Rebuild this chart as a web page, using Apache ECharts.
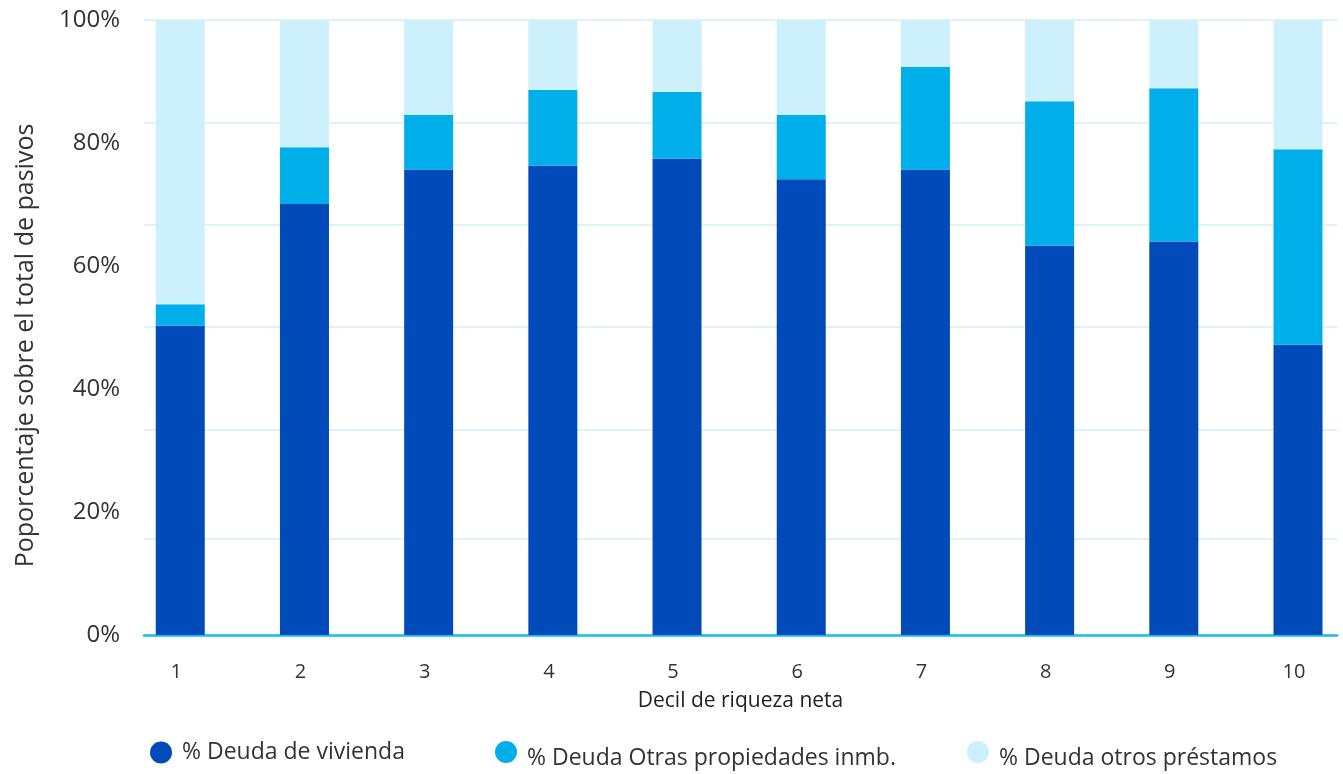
<!DOCTYPE html>
<html>
<head>
<meta charset="utf-8">
<script src="https://cdn.jsdelivr.net/npm/echarts@6/dist/echarts.min.js"></script>
<style>
  html, body { margin: 0; padding: 0; background: #ffffff; }
  #chart { width: 1343px; height: 774px; }
</style>
</head>
<body>
<div id="chart"></div>
<script>
// Deciles of net wealth and the share of each debt type in total liabilities (%)
const deciles = [1, 2, 3, 4, 5, 6, 7, 8, 9, 10];
const deudaVivienda = [50.3, 70.1, 75.7, 76.3, 77.5, 74.1, 75.7, 63.3, 64.0, 47.2];
const deudaOtrasPropiedades = [3.5, 9.2, 8.9, 12.3, 10.8, 10.5, 16.7, 23.5, 24.9, 31.8];
const deudaOtrosPrestamos = [46.2, 20.7, 15.4, 11.4, 11.7, 15.4, 7.6, 13.2, 11.1, 21.0];
const seriesNames = ['% Deuda de vivienda', '% Deuda Otras propiedades inmb.', '% Deuda otros préstamos'];
const yTicks = [0, 20, 40, 60, 80, 100];
const gridValues = [15.6, 33.4, 50.1, 66.7, 83.3, 100];

const colors = ['#004BB9', '#00AFEA', '#CDF0FD'];
const FONT = '"Open Sans", "Noto Sans", sans-serif';

// Each point is [share, decil]; the share is the stacked value dimension
function toPoints(values) {
  return values.map((v, i) => [v, deciles[i]]);
}

const chart = echarts.init(document.getElementById('chart'), null, { renderer: 'canvas' });

function makeBar(name, values, color, withGrid) {
  const s = {
    name: name,
    type: 'bar',
    stack: 'total',
    barWidth: 49,
    encode: { x: 1, y: 0 },
    data: toPoints(values),
    itemStyle: { color: color },
    emphasis: { disabled: true },
    silent: true
  };
  if (withGrid) {
    s.markLine = {
      silent: true,
      z: 1,
      symbol: ['none', 'none'],
      label: { show: false },
      lineStyle: { color: '#DDF3FB', width: 2, type: 'solid' },
      animation: false,
      data: gridValues.map(v => ({ yAxis: v }))
    };
  }
  return s;
}

// One legend per series so each entry sits at its own spot along the bottom
function legendAt(name, left, top, textDrop) {
  return {
    data: [name],
    left: left,
    top: top,
    icon: 'circle',
    itemWidth: 22,
    itemHeight: 22,
    selectedMode: false,
    formatter: '{t|{name}}',
    textStyle: {
      fontFamily: FONT,
      fontSize: 23,
      color: '#333333',
      rich: {
        t: {
          fontFamily: FONT,
          fontSize: 23,
          color: '#333333',
          padding: [textDrop * 2, 0, 0, 5]
        }
      }
    }
  };
}

chart.setOption({
  animation: false,
  color: colors,
  textStyle: { fontFamily: FONT },
  grid: { left: 144, right: 6, top: 20, bottom: 139, containLabel: false },
  legend: [
    legendAt(seriesNames[0], 145, 736, 0),
    legendAt(seriesNames[1], 490, 736, 6),
    legendAt(seriesNames[2], 962, 736, 6)
  ],
  xAxis: {
    type: 'value',
    min: 0.708,
    max: 10.314,
    name: 'Decil de riqueza neta',
    nameLocation: 'middle',
    nameGap: 56,
    nameTextStyle: { fontFamily: FONT, fontSize: 21, color: '#222222' },
    axisLine: { show: true, onZero: false, lineStyle: { color: '#12BDF2', width: 2.5 } },
    axisTick: { show: false },
    splitLine: { show: false },
    axisLabel: {
      customValues: deciles,
      fontFamily: FONT,
      fontSize: 20,
      color: '#333333',
      margin: 27,
      padding: [0, 8, 0, 0],
      formatter: v => String(v)
    }
  },
  yAxis: {
    type: 'value',
    min: 0,
    max: 100,
    interval: 20,
    name: 'Poporcentaje sobre el total de pasivos',
    nameLocation: 'middle',
    nameRotate: 90,
    nameGap: 106,
    nameTextStyle: { fontFamily: FONT, fontSize: 25, color: '#333333', padding: [0, 36, 0, 0] },
    axisLine: { show: false },
    axisTick: { show: false },
    splitLine: { show: false },
    axisLabel: {
      customValues: yTicks,
      fontFamily: FONT,
      fontSize: 24,
      color: '#333333',
      margin: 24,
      padding: [5, 0, 0, 0],
      formatter: v => v + '%'
    }
  },
  series: [
    makeBar(seriesNames[0], deudaVivienda, colors[0], true),
    makeBar(seriesNames[1], deudaOtrasPropiedades, colors[1], false),
    makeBar(seriesNames[2], deudaOtrosPrestamos, colors[2], false)
  ]
});
</script>
</body>
</html>
